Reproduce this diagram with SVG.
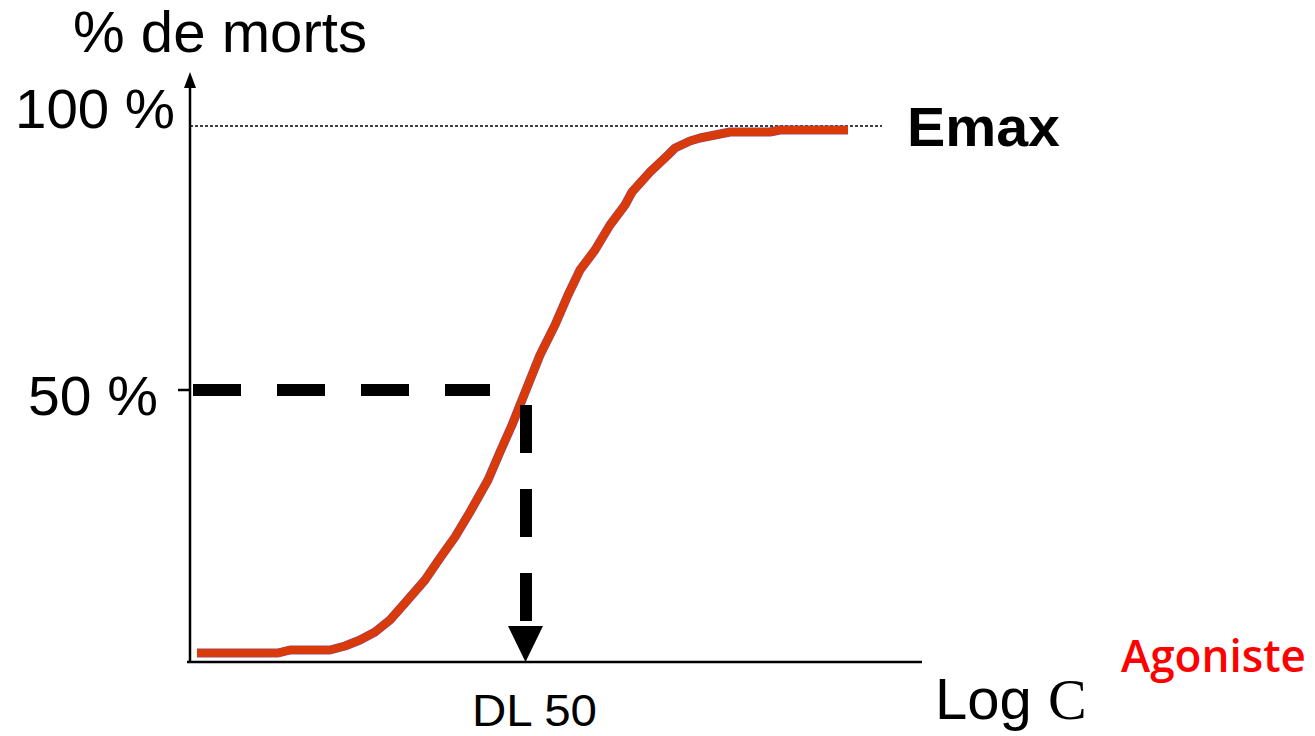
<svg xmlns="http://www.w3.org/2000/svg" width="1315" height="736" viewBox="0 0 1315 736">
  <style>
    .lbl { font-family: "Liberation Sans", Arial, sans-serif; fill: #000; }
    .axis { stroke: #000; stroke-width: 2.5; fill: none; }
    .curve { fill: none; stroke-linejoin: round; stroke-linecap: butt; }
  </style>
  <rect width="1315" height="736" fill="#fff"/>

  <!-- axes -->
  <g id="axes">
    <line class="axis" x1="190" y1="662" x2="190" y2="86"/>
    <path d="M184,88 L190,72 L196,88 Z" fill="#000"/>
    <line class="axis" x1="187" y1="662" x2="922" y2="662"/>
    <line class="axis" x1="178" y1="390" x2="190" y2="390"/>
    <line x1="190" y1="126" x2="882" y2="126" stroke="#000" stroke-width="1.5" stroke-dasharray="3 2"/>
  </g>

  <!-- dose-response curve -->
  <g id="curve">
    <polyline class="curve" stroke="#8a4a8a" stroke-width="9"
      points="197,653 278,653 290,650 330,650 345,646 360,640 375,632 390,620 405,603 425,580 440,558 455,537 470,512 488,480 500,452 512,425 522,400 530,380 540,355 555,325 568,295 580,270 595,250 610,225 625,205 632,192 650,172 668,155 675,148 690,141 700,138 730,132 770,132 780,130 848,130"/>
    <polyline class="curve" stroke="#d93a0a" stroke-width="8"
      points="197,653 278,653 290,650 330,650 345,646 360,640 375,632 390,620 405,603 425,580 440,558 455,537 470,512 488,480 500,452 512,425 522,400 530,380 540,355 555,325 568,295 580,270 595,250 610,225 625,205 632,192 650,172 668,155 675,148 690,141 700,138 730,132 770,132 780,130 848,130"/>
  </g>

  <!-- DL50 guides -->
  <g id="connectors">
    <line x1="193" y1="390" x2="490" y2="390" stroke="#000" stroke-width="12" stroke-dasharray="48 36"/>
    <line x1="526" y1="405" x2="526" y2="621" stroke="#000" stroke-width="12" stroke-dasharray="48 36"/>
    <path d="M508,626 L543,626 L525.5,662 Z" fill="#000"/>
  </g>

  <!-- labels -->
  <g id="labels">
    <text class="lbl" x="73" y="52" font-size="57" textLength="294" lengthAdjust="spacingAndGlyphs">% de morts</text>
    <text class="lbl" x="15" y="128" font-size="56" textLength="160" lengthAdjust="spacingAndGlyphs">100 %</text>
    <text class="lbl" x="28" y="415" font-size="56" textLength="130" lengthAdjust="spacingAndGlyphs">50 %</text>
    <text class="lbl" x="907" y="146" font-size="56" font-weight="bold" textLength="153" lengthAdjust="spacingAndGlyphs">Emax</text>
    <text class="lbl" x="472" y="726" font-size="45" textLength="125" lengthAdjust="spacingAndGlyphs">DL 50</text>
    <text class="lbl" x="935" y="719" font-size="58">Log <tspan font-family="'Liberation Serif', 'Times New Roman', serif">C</tspan></text>
    <text x="1121" y="672" font-family="'Open Sans', 'DejaVu Sans', sans-serif" font-weight="600" font-size="45" fill="#ff0000" textLength="185" lengthAdjust="spacingAndGlyphs">Agoniste</text>
  </g>
</svg>
